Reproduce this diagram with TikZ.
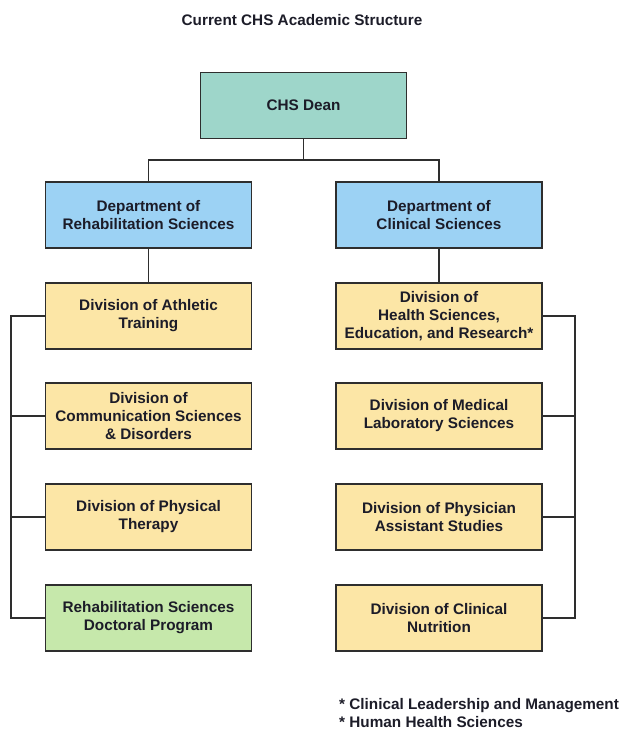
\documentclass[tikz,border=0pt]{standalone}
\usepackage{fontspec}
\setmainfont{Liberation Sans}
\usetikzlibrary{positioning}

\definecolor{deanteal}{HTML}{9ED6CA}
\definecolor{deptblue}{HTML}{9CD2F4}
\definecolor{divyellow}{HTML}{FCE6A6}
\definecolor{progreen}{HTML}{C6E8AB}
\definecolor{linegray}{HTML}{2E2E2E}
\definecolor{textdark}{HTML}{1C1C28}

\begin{document}
\begin{tikzpicture}[x=1pt, y=-1pt,
    unit/.style={draw=linegray, line width=1.5pt, minimum width=206pt,
      minimum height=66pt, align=center, text=textdark,
      font=\fontsize{15.3}{18}\selectfont\bfseries},
    link/.style={draw=linegray, line width=1.5pt},
    plain/.style={text=textdark, font=\fontsize{15.3}{18}\selectfont\bfseries}]
  \useasboundingbox (0,0) rectangle (624,730);

  % title
  \node[plain] (title) at (302,20) {Current CHS Academic Structure};

  % top levels
  \node[unit, fill=deanteal] (dean) at (303.5,105.5) {CHS Dean};
  \node[unit, fill=deptblue] (rehab) at (148.5,215) {Department of\\Rehabilitation Sciences};
  \node[unit, fill=deptblue] (clin) at (439,215) {Department of\\Clinical Sciences};

  % left column
  \node[unit, fill=divyellow] (athl) at (148.5,316) {Division of Athletic\\Training};
  \node[unit, fill=divyellow] (comm) at (148.5,416) {Division of\\Communication Sciences\\\& Disorders};
  \node[unit, fill=divyellow] (pt) at (148.5,517) {Division of Physical\\Therapy};
  \node[unit, fill=progreen] (rdp) at (148.5,618) {Rehabilitation Sciences\\Doctoral Program};

  % right column
  \node[unit, fill=divyellow] (hser) at (439,316) {Division of\\Health Sciences,\\Education, and Research*};
  \node[unit, fill=divyellow] (mls) at (439,416) {Division of Medical\\Laboratory Sciences};
  \node[unit, fill=divyellow] (pas) at (439,517) {Division of Physician\\Assistant Studies};
  \node[unit, fill=divyellow] (nutr) at (439,618) {Division of Clinical\\Nutrition};

  \coordinate (lrail) at (11,0);
  \coordinate (rrail) at (575,0);

  % connectors
  \draw[link] (dean.south) -- ++(0,21) -| (rehab.north);
  \draw[link] (dean.south) ++(0,21) -| (clin.north);
  \draw[link] (rehab.south) -- (athl.north);
  \draw[link] (clin.south) -- (hser.north);
  \draw[link] (athl.west) -- (athl.west -| lrail) -- (rdp.west -| lrail) -- (rdp.west);
  \draw[link] (hser.east) -- (hser.east -| rrail) -- (nutr.east -| rrail) -- (nutr.east);
  \foreach \n in {comm, pt}
    \draw[link] (\n.west) -- (\n.west -| lrail);
  \foreach \n in {mls, pas}
    \draw[link] (\n.east) -- (\n.east -| rrail);

  % notes
  \node[plain, align=left, anchor=west, inner sep=0pt] (notes) at (339,713)
    {* Clinical Leadership and Management\\* Human Health Sciences};
\end{tikzpicture}
\end{document}
